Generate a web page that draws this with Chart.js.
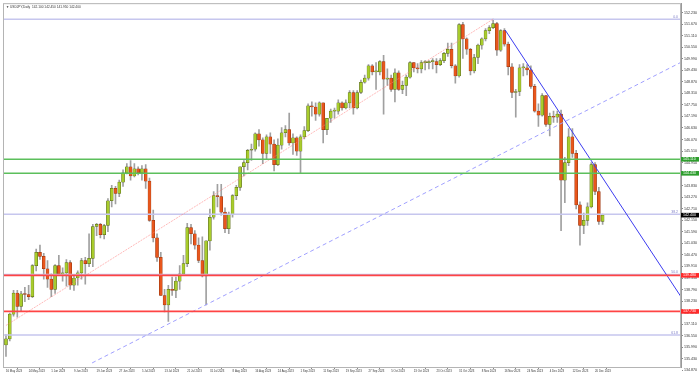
<!DOCTYPE html>
<html>
<head>
<meta charset="utf-8">
<script src="https://cdn.jsdelivr.net/npm/chart.js@4.4.1/dist/chart.umd.min.js"></script>
<style>
  html, body { margin: 0; padding: 0; background: #fff; }
  #wrap { width: 699px; height: 377px; }
</style>
</head>
<body>
<div id="wrap"><canvas id="chart" width="699" height="377"></canvas></div>
<script>
// USDJPY daily, 16 May 2023 .. 22 Dec 2023 (one entry per trading day)
const symbol = 'USDJPY,Daily';

const open = [
  136.10, 136.40, 137.60, 138.62, 137.97, 138.58, 138.55, 138.45, 139.95, 140.60, 140.40, 139.80,
  139.30, 138.80, 139.95, 139.55, 139.60, 140.10, 139.00, 139.35, 139.60, 140.20, 140.05, 140.30,
  141.85, 141.95, 141.45, 141.90, 143.10, 143.70, 143.45, 144.00, 144.45, 144.75, 144.30, 144.65,
  144.45, 144.65, 144.05, 142.15, 141.30, 140.35, 138.50, 138.05, 138.80, 138.75, 139.20, 139.55,
  140.05, 141.80, 141.50, 140.95, 140.20, 139.45, 141.15, 142.30, 143.35, 143.30, 142.55, 141.75,
  142.45, 143.35, 143.75, 144.75, 144.95, 145.55, 145.60, 146.35, 146.05, 145.40, 146.20, 145.85,
  144.85, 145.80, 146.40, 146.55, 145.90, 146.15, 145.50, 146.20, 146.50, 147.70, 147.65, 147.30,
  147.85, 146.55, 147.10, 147.45, 147.45, 147.85, 147.60, 147.85, 148.35, 147.60, 148.35, 148.85,
  149.05, 149.65, 149.35, 149.35, 149.85, 149.00, 149.05, 148.50, 149.30, 148.50, 148.70, 149.10,
  149.80, 149.55, 149.50, 149.80, 149.80, 149.85, 149.85, 149.70, 149.90, 150.25, 150.45, 149.65,
  149.15, 151.65, 150.95, 150.45, 149.40, 150.05, 150.65, 150.95, 151.35, 151.50, 151.70, 150.40,
  151.35, 150.70, 149.60, 148.35, 148.40, 149.55, 149.55, 149.45, 148.65, 147.45, 147.25, 148.20,
  146.80, 147.20, 147.15, 147.30, 144.10, 144.95, 146.20, 145.40, 142.90, 141.90, 142.15, 142.80,
  144.85, 143.55, 142.10
];
const high = [
  136.60, 137.65, 138.75, 138.75, 138.70, 138.90, 139.00, 140.00, 140.75, 140.95, 140.55, 140.20,
  139.55, 140.00, 140.45, 139.85, 140.25, 140.20, 139.50, 139.70, 140.30, 140.35, 141.50, 141.95,
  142.00, 142.00, 141.95, 143.20, 143.85, 143.80, 144.10, 144.60, 144.90, 145.05, 144.90, 144.75,
  144.80, 144.85, 144.20, 142.65, 141.50, 140.60, 138.80, 139.00, 139.40, 139.40, 139.95, 140.45,
  142.00, 141.95, 141.65, 141.30, 141.35, 141.15, 142.70, 143.55, 143.90, 143.90, 142.75, 142.55,
  143.40, 143.85, 144.75, 145.05, 145.60, 145.85, 146.40, 146.55, 146.15, 146.30, 146.40, 146.05,
  146.10, 146.65, 146.75, 147.35, 146.35, 146.20, 146.30, 146.70, 147.80, 147.90, 147.85, 147.90,
  147.85, 147.10, 147.55, 147.60, 148.00, 147.90, 148.00, 148.45, 148.45, 148.45, 148.95, 149.20,
  149.70, 149.70, 149.80, 149.90, 150.15, 149.50, 149.20, 149.50, 149.40, 148.90, 149.20, 149.85,
  149.80, 149.75, 149.90, 149.90, 149.90, 150.00, 150.00, 150.00, 150.30, 150.75, 150.75, 149.70,
  151.70, 151.75, 151.00, 150.50, 150.20, 150.70, 151.00, 151.45, 151.60, 151.91, 151.75, 151.40,
  151.45, 150.80, 149.75, 148.50, 149.70, 149.75, 149.70, 149.65, 148.75, 147.80, 148.30, 148.20,
  147.35, 147.45, 147.45, 147.50, 145.20, 146.60, 146.60, 145.55, 143.05, 142.50, 143.00, 144.95,
  144.95, 143.75, 142.45
];
const low = [
  135.55, 136.30, 137.50, 137.45, 137.75, 138.20, 138.30, 138.40, 139.70, 140.25, 139.30, 138.90,
  138.45, 138.60, 139.50, 139.20, 138.95, 138.80, 138.75, 139.00, 139.30, 139.05, 139.90, 139.90,
  141.40, 141.30, 141.25, 141.60, 142.80, 142.95, 143.30, 143.80, 144.40, 144.10, 144.25, 144.35,
  144.10, 143.70, 142.10, 141.10, 140.15, 138.50, 137.70, 137.25, 138.50, 138.40, 138.80, 139.50,
  139.90, 141.00, 140.75, 140.10, 139.40, 138.05, 140.70, 142.20, 142.80, 142.40, 141.55, 141.50,
  142.30, 143.15, 143.60, 144.30, 144.60, 145.05, 145.50, 145.75, 144.90, 145.10, 145.40, 144.55,
  144.80, 145.60, 146.20, 145.80, 145.35, 145.30, 144.45, 146.10, 146.45, 147.20, 147.00, 147.20,
  145.90, 146.30, 146.90, 147.10, 147.30, 147.50, 147.55, 147.60, 147.30, 147.55, 148.30, 148.80,
  148.95, 149.20, 148.50, 149.20, 147.30, 148.70, 148.40, 147.90, 148.45, 148.30, 148.20, 149.05,
  149.35, 149.30, 149.30, 149.45, 149.50, 149.50, 149.30, 149.65, 149.80, 150.10, 149.55, 148.80,
  149.10, 150.00, 150.20, 149.20, 149.30, 149.75, 150.45, 150.85, 151.20, 151.45, 150.15, 150.35,
  150.60, 149.20, 148.10, 147.15, 148.20, 149.15, 149.20, 148.55, 147.40, 146.70, 147.20, 146.70,
  146.25, 146.90, 146.90, 141.65, 143.00, 144.80, 145.20, 142.70, 140.95, 141.50, 141.90, 142.75,
  143.40, 141.95, 141.95
];
const close = [
  136.40, 137.60, 138.62, 137.97, 138.58, 138.55, 138.45, 139.95, 140.60, 140.40, 139.80, 139.30,
  138.80, 139.95, 139.55, 139.60, 140.10, 139.00, 139.35, 139.60, 140.20, 140.05, 140.30, 141.85,
  141.95, 141.45, 141.90, 143.10, 143.70, 143.45, 144.00, 144.45, 144.75, 144.30, 144.65, 144.45,
  144.65, 144.05, 142.15, 141.30, 140.35, 138.50, 138.05, 138.80, 138.75, 139.20, 139.55, 140.05,
  141.80, 141.50, 140.95, 140.20, 139.45, 141.15, 142.30, 143.35, 143.30, 142.55, 141.75, 142.45,
  143.35, 143.75, 144.75, 144.95, 145.55, 145.60, 146.35, 146.05, 145.40, 146.20, 145.85, 144.85,
  145.80, 146.40, 146.55, 145.90, 146.15, 145.50, 146.20, 146.50, 147.70, 147.65, 147.30, 147.85,
  146.55, 147.10, 147.45, 147.45, 147.85, 147.60, 147.85, 148.35, 147.60, 148.35, 148.85, 149.05,
  149.65, 149.35, 149.35, 149.85, 149.00, 149.05, 148.50, 149.30, 148.50, 148.70, 149.10, 149.80,
  149.55, 149.50, 149.80, 149.80, 149.85, 149.85, 149.70, 149.90, 150.25, 150.45, 149.65, 149.15,
  151.65, 150.95, 150.45, 149.40, 150.05, 150.65, 150.95, 151.35, 151.50, 151.70, 150.40, 151.35,
  150.70, 149.60, 148.35, 148.40, 149.55, 149.55, 149.45, 148.65, 147.45, 147.25, 148.20, 146.80,
  147.20, 147.15, 147.30, 144.10, 144.95, 146.20, 145.40, 142.90, 141.90, 142.15, 142.80, 144.85,
  143.55, 142.10, 142.40
];

// time axis labels (bar index -> date)
const tickBars = [0, 6, 12, 18, 24, 30, 36, 42, 48, 54, 60, 66, 72, 78, 84, 90, 96, 102, 108, 114, 120, 126, 132, 138, 144, 150, 156];
const tickLabels = ['16 May 2023', '24 May 2023', '1 Jun 2023', '9 Jun 2023', '19 Jun 2023', '27 Jun 2023',
  '5 Jul 2023', '13 Jul 2023', '21 Jul 2023', '31 Jul 2023', '8 Aug 2023', '16 Aug 2023', '24 Aug 2023',
  '1 Sep 2023', '11 Sep 2023', '19 Sep 2023', '27 Sep 2023', '5 Oct 2023', '13 Oct 2023', '23 Oct 2023',
  '31 Oct 2023', '8 Nov 2023', '16 Nov 2023', '24 Nov 2023', '4 Dec 2023', '12 Dec 2023', '20 Dec 2023'];

// price scale labels
const priceTicks = [152.23, 151.67, 151.11, 150.55, 149.99, 149.43, 148.87, 148.31, 147.75, 147.19, 146.63,
  146.07, 145.51, 144.95, 144.39, 143.83, 143.27, 142.71, 142.15, 141.59, 141.03, 140.47, 139.91, 139.35,
  138.79, 138.23, 137.67, 137.11, 136.55, 135.99, 135.43, 134.87];

// drawn objects
const fibLevels = [151.91, 142.44, 139.52, 136.59];
const fibNames = ['0.0', '38.2', '50.0', '61.8'];
const greenLevels = [145.11, 144.43];
const redLevels = [139.48, 137.73];
const trendPink = [[0, 137.05], [129, 151.91]];
const trendDash = [[22.8, 135.23], [178.8, 149.82]];
const trendBlue = [[132.2, 151.38], [178.8, 138.43]];

const bullFill = '#a8cc2c', bullEdge = '#4d5c12';
const bearFill = '#e8561c', bearEdge = '#8c300c';
const last = close.length - 1;

function hline(v, color, width, order) {
  return {
    type: 'line', data: [{ x: -5, y: v }, { x: 190, y: v }],
    borderColor: color, borderWidth: width, pointRadius: 0, order: order
  };
}
function tline(pts, color, dash, width) {
  return {
    type: 'line', data: pts.map(p => ({ x: p[0], y: p[1] })),
    borderColor: color, borderWidth: width, borderDash: dash, pointRadius: 0, order: 0
  };
}

const datasets = [
  {
    type: 'bar', data: low.map((l, i) => ({ x: i, y: [l, high[i]] })),
    backgroundColor: '#a0a0a0', barThickness: 1, grouped: false, order: 3
  },
  {
    type: 'bar', data: open.map((o, i) => ({ x: i, y: [o, close[i]] })),
    backgroundColor: ctx => close[ctx.dataIndex] >= open[ctx.dataIndex] ? bullFill : bearFill,
    borderColor: ctx => close[ctx.dataIndex] >= open[ctx.dataIndex] ? bullEdge : bearEdge,
    borderWidth: 0.5, borderSkipped: false, barThickness: 3, minBarLength: 1, grouped: false, order: 2
  },
  ...fibLevels.map(v => hline(v, '#c6c6ee', 1.5, 1)),
  ...greenLevels.map(v => hline(v, '#5cbf5c', 1.4, 0)),
  ...redLevels.map(v => hline(v, '#ff4444', 1.6, -1)),
  tline(trendPink, 'rgba(255,130,130,0.55)', [2, 1], 1),
  tline(trendDash, '#a0a0ff', [4, 3], 1),
  tline(trendBlue, '#3c3cf0', [], 1)
];

const overlay = {
  id: 'overlay',
  afterDraw(chart) {
    const { ctx, chartArea: a, scales: { y } } = chart;
    ctx.save();
    // frame
    ctx.strokeStyle = '#b4b4b4';
    ctx.lineWidth = 1;
    ctx.strokeRect(a.left + 0.5, a.top + 0.5, a.right - a.left - 1, a.bottom - a.top);
    // title
    ctx.fillStyle = '#333';
    ctx.font = '3.2px "Liberation Sans", Arial, sans-serif';
    ctx.textBaseline = 'middle';
    ctx.textAlign = 'left';
    const f = v => v.toFixed(3);
    ctx.fillText('\u25BC ' + symbol + '  ' + f(open[last]) + ' ' + f(high[last]) + ' ' + f(low[last]) + ' ' + f(close[last]), a.left + 3, a.top + 3.5);
    // fib labels
    ctx.fillStyle = '#8080c8';
    ctx.font = '3.5px "Liberation Sans", Arial, sans-serif';
    ctx.textAlign = 'right';
    ctx.textBaseline = 'bottom';
    fibLevels.forEach((v, i) => ctx.fillText(fibNames[i], a.right - 3, y.getPixelForValue(v) - 0.5));
    // price boxes on the scale
    const boxes = [
      ...greenLevels.map(v => [v, '#2e9e2e']),
      ...redLevels.map(v => [v, '#ff2a2a']),
      [close[last], '#000']
    ];
    ctx.textAlign = 'left';
    ctx.textBaseline = 'middle';
    ctx.font = '3.6px "Liberation Sans", Arial, sans-serif';
    boxes.forEach(([v, c]) => {
      const py = y.getPixelForValue(v);
      ctx.fillStyle = c;
      ctx.fillRect(a.right, py - 2.3, chart.width - a.right, 4.6);
      ctx.fillStyle = '#fff';
      ctx.fillText(v.toFixed(3), a.right + 2, py);
    });
    ctx.restore();
  }
};

new Chart(document.getElementById('chart'), {
  type: 'bar',
  data: { datasets },
  options: {
    responsive: false,
    animation: false,
    layout: { padding: { left: 3, top: 3, right: 0, bottom: 0 } },
    plugins: { legend: { display: false }, tooltip: { enabled: false } },
    scales: {
      x: {
        type: 'linear', position: 'bottom', min: -0.79, max: 178.76, offset: false,
        afterBuildTicks: s => { s.ticks = tickBars.map(v => ({ value: v })); },
        afterFit: s => { s.height = 10; },
        ticks: {
          callback: (v, i) => tickLabels[i], align: 'start', autoSkip: false, maxRotation: 0,
          font: { size: 2.8, family: 'Liberation Sans' }, color: '#333', padding: 1
        },
        grid: { drawOnChartArea: false, drawTicks: true, tickLength: 2, color: '#888' },
        border: { color: '#b4b4b4' }
      },
      y: {
        type: 'linear', position: 'right', min: 135.033, max: 152.686,
        afterBuildTicks: s => { s.ticks = priceTicks.map(v => ({ value: v })); },
        afterFit: s => { s.width = 18; },
        ticks: {
          callback: v => v.toFixed(3), autoSkip: false,
          font: { size: 3.6, family: 'Liberation Sans' }, color: '#333', padding: 1
        },
        grid: { drawOnChartArea: false, drawTicks: true, tickLength: 2, color: '#888' },
        border: { color: '#999' }
      }
    }
  },
  plugins: [overlay]
});
</script>
</body>
</html>
